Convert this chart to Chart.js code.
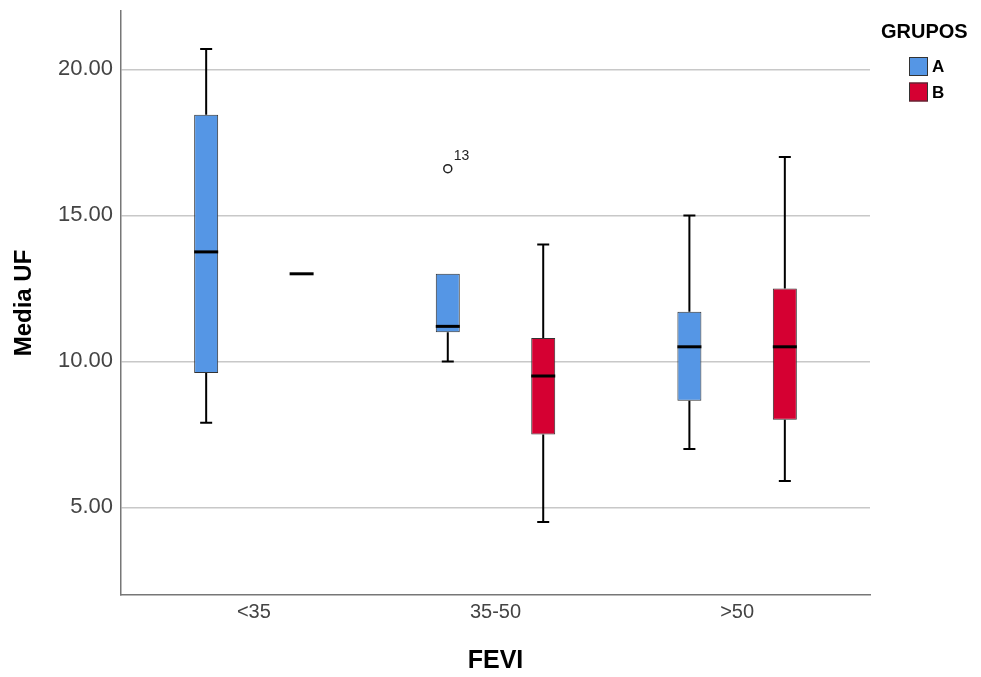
<!DOCTYPE html>
<html>
<head>
<meta charset="utf-8">
<script src="https://cdn.jsdelivr.net/npm/chart.js@4.4.1/dist/chart.umd.min.js"></script>
<style>
  html, body { margin: 0; padding: 0; background: #fff; }
  #wrap { width: 981px; height: 677px; }
</style>
</head>
<body>
<div id="wrap"><canvas id="canvas" width="981" height="677"></canvas></div>
<script>
const categories = ['<35', '35-50', '>50'];
const groups = ['A', 'B'];

// five number summary per group, one value per FEVI category
const minA = [7.9, 10.0, 7.0];
const q1A = [9.6, 11.0, 8.65];
const medianA = [13.75, 11.2, 10.5];
const q3A = [18.45, 13.0, 11.7];
const maxA = [20.7, 13.0, 15.0];

const minB = [13.0, 4.5, 5.9];
const q1B = [13.0, 7.5, 8.0];
const medianB = [13.0, 9.5, 10.5];
const q3B = [13.0, 10.8, 12.5];
const maxB = [13.0, 14.0, 17.0];

// outliers (category index, value, case number)
const outliersA = [{ cat: 1, value: 16.6, label: '13' }];
const outliersB = [];

const yTicks = [5, 10, 15, 20];

const FONT = "'Liberation Sans', Arial, sans-serif";
const colorA = '#5596e5';
const colorB = '#d50032';

const summaries = [
    { min: minA, median: medianA, max: maxA, outliers: outliersA },
    { min: minB, median: medianB, max: maxB, outliers: outliersB },
];

const makeBoxes = (q1, q3) => categories.map((c, i) => ({ x: i, y: [q1[i], q3[i]] }));

const noPadding = (axis) => {
    axis.paddingTop = 0;
    axis.paddingBottom = 0;
    axis.paddingLeft = 0;
    axis.paddingRight = 0;
};

const boxPlotPlugin = {
    id: 'boxplot',
    afterDatasetsDraw: (chart) => {
        const { ctx } = chart;
        const yScale = chart.scales.y;
        summaries.forEach((s, d) => {
            const meta = chart.getDatasetMeta(d);
            meta.data.forEach((bar, i) => {
                const x = bar.x;
                const w = bar.width;
                const [q1, q3] = chart.data.datasets[d].data[i].y;
                const yMin = yScale.getPixelForValue(s.min[i]);
                const yMax = yScale.getPixelForValue(s.max[i]);
                const yQ1 = yScale.getPixelForValue(q1);
                const yQ3 = yScale.getPixelForValue(q3);
                const yMed = yScale.getPixelForValue(s.median[i]);

                ctx.save();
                ctx.strokeStyle = '#000';
                ctx.lineWidth = 2;
                ctx.beginPath();
                if (s.max[i] > q3) {
                    ctx.moveTo(x, yQ3);
                    ctx.lineTo(x, yMax);
                    ctx.moveTo(x - w / 4, yMax);
                    ctx.lineTo(x + w / 4, yMax);
                }
                if (s.min[i] < q1) {
                    ctx.moveTo(x, yQ1);
                    ctx.lineTo(x, yMin);
                    ctx.moveTo(x - w / 4, yMin);
                    ctx.lineTo(x + w / 4, yMin);
                }
                ctx.stroke();

                ctx.lineWidth = 3;
                ctx.beginPath();
                ctx.moveTo(x - w / 2, yMed);
                ctx.lineTo(x + w / 2, yMed);
                ctx.stroke();

                s.outliers.filter(o => o.cat === i).forEach(o => {
                    const yo = yScale.getPixelForValue(o.value);
                    ctx.lineWidth = 1.5;
                    ctx.strokeStyle = '#222';
                    ctx.beginPath();
                    ctx.arc(x, yo, 4, 0, Math.PI * 2);
                    ctx.stroke();
                    ctx.fillStyle = '#222';
                    ctx.font = `14px ${FONT}`;
                    ctx.textAlign = 'left';
                    ctx.textBaseline = 'alphabetic';
                    ctx.fillText(o.label, x + 6, yo - 9);
                });
                ctx.restore();
            });
        });
    },
    afterDraw: (chart) => {
        const { ctx } = chart;
        ctx.save();
        ctx.fillStyle = '#000';
        ctx.textAlign = 'left';
        ctx.textBaseline = 'middle';
        ctx.font = `bold 20px ${FONT}`;
        ctx.fillText('GRUPOS', 881, 32);
        ctx.font = `bold 17px ${FONT}`;
        [colorA, colorB].forEach((c, i) => {
            const top = 57 + i * 25.5;
            ctx.fillStyle = c;
            ctx.fillRect(909, top, 19, 19);
            ctx.strokeStyle = '#333';
            ctx.lineWidth = 1;
            ctx.strokeRect(909.5, top + 0.5, 18, 18);
            ctx.fillStyle = '#000';
            ctx.fillText(groups[i], 932, top + 10.5);
        });
        ctx.restore();
    },
};

const chart = new Chart(document.getElementById('canvas'), {
    type: 'bar',
    data: {
        datasets: [
            {
                label: groups[0],
                data: makeBoxes(q1A, q3A),
                backgroundColor: colorA,
                borderColor: '#333',
                borderWidth: 1,
                borderSkipped: false,
            },
            {
                label: groups[1],
                data: makeBoxes(q1B, q3B),
                backgroundColor: colorB,
                borderColor: '#333',
                borderWidth: 1,
                borderSkipped: false,
            },
        ],
    },
    plugins: [boxPlotPlugin],
    options: {
        responsive: false,
        animation: false,
        layout: { padding: { top: 11, right: 111, left: 0, bottom: 0 } },
        datasets: {
            bar: { categoryPercentage: 0.79, barPercentage: 0.2515 },
        },
        plugins: {
            legend: { display: false },
            tooltip: { enabled: false },
        },
        scales: {
            x: {
                type: 'linear',
                min: -0.55,
                max: 2.55,
                offset: false,
                afterBuildTicks: (axis) => {
                    axis.ticks = categories.map((c, i) => ({ value: i }));
                },
                afterFit: (axis) => { axis.height = 82; noPadding(axis); },
                grid: { display: false, drawTicks: false, offset: false },
                border: { display: true, color: '#777', width: 1.5 },
                ticks: {
                    callback: (value) => categories[value],
                    font: { family: FONT, size: 20 },
                    color: '#444',
                    padding: 5,
                    maxRotation: 0,
                },
                title: {
                    display: true,
                    text: 'FEVI',
                    font: { family: FONT, size: 25, weight: 'bold' },
                    color: '#000',
                    padding: { top: 4, bottom: 1 },
                },
            },
            y: {
                min: 2,
                max: 22,
                afterBuildTicks: (axis) => {
                    axis.ticks = yTicks.map(v => ({ value: v }));
                },
                afterFit: (axis) => { axis.width = 121; noPadding(axis); },
                grid: { color: '#c8c8c8', lineWidth: 1.5, drawTicks: false },
                border: { display: true, color: '#777', width: 1.5 },
                ticks: {
                    callback: (value) => value.toFixed(2),
                    font: { family: FONT, size: 22 },
                    color: '#444',
                    padding: 8,
                },
                title: {
                    display: true,
                    text: 'Media UF',
                    font: { family: FONT, size: 24, weight: 'bold' },
                    color: '#000',
                    padding: { top: 10 },
                },
            },
        },
    },
});
</script>
</body>
</html>
